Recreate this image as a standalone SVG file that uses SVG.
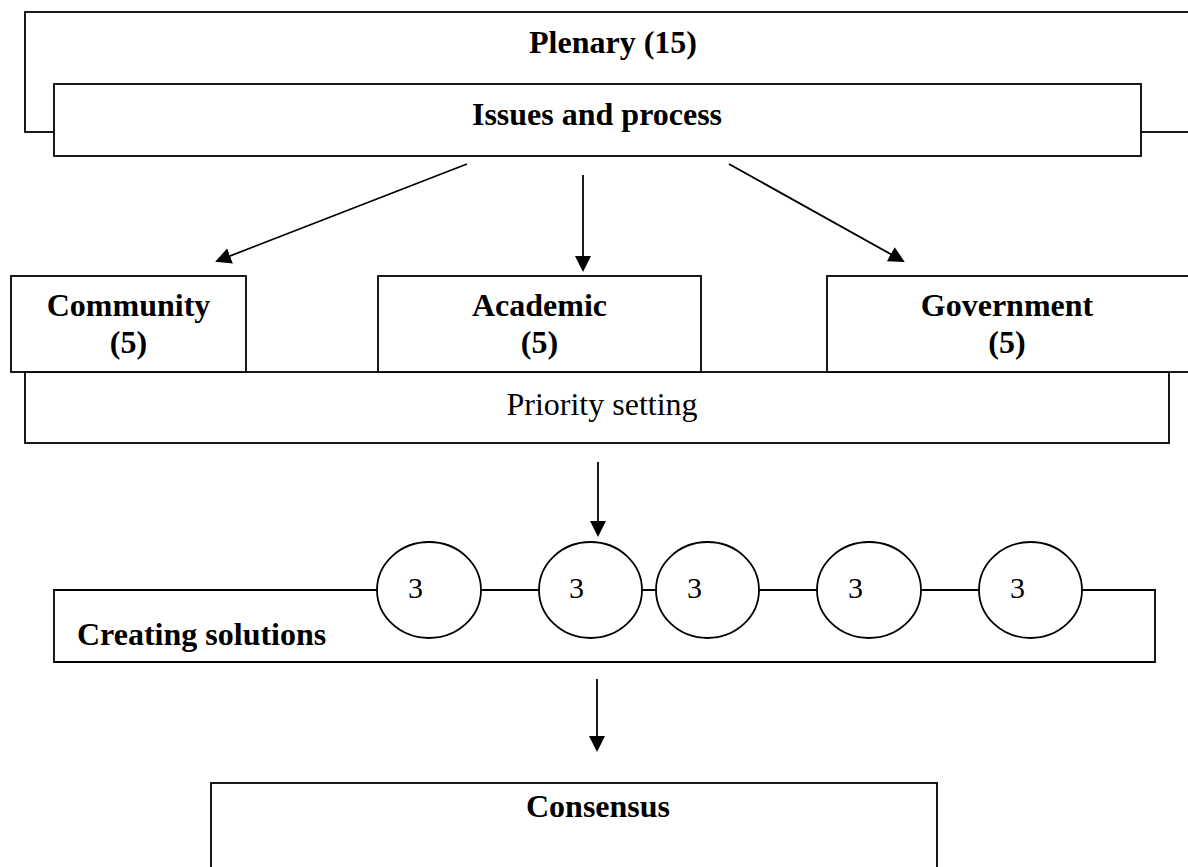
<svg xmlns="http://www.w3.org/2000/svg" width="1188" height="867" viewBox="0 0 1188 867">
<defs>
<style>
.box{fill:#fff;stroke:#000;stroke-width:1.8}
.ln{fill:none;stroke:#000;stroke-width:1.8}
.b{font-family:"Liberation Serif","Times New Roman",serif;font-weight:bold;font-size:32px;fill:#000}
.r{font-family:"Liberation Serif","Times New Roman",serif;font-size:32px;fill:#000}
.n{font-family:"Liberation Serif","Times New Roman",serif;font-size:30px;fill:#000}
</style>
<marker id="ah" markerWidth="16" markerHeight="16" refX="14" refY="8" orient="auto" markerUnits="userSpaceOnUse">
<path d="M0,0 L16,8 L0,16 Z" fill="#000"/>
</marker>
</defs>
<rect width="1188" height="867" fill="#fff"/>
<g id="plenary">
<rect class="box" x="25" y="12" width="1180" height="120"/>
<text class="b" x="529" y="53">Plenary (15)</text>
</g>
<g id="issues">
<rect class="box" x="54" y="84" width="1087" height="72"/>
<text class="b" x="597" y="125" text-anchor="middle">Issues and process</text>
</g>
<g id="priority">
<rect class="box" x="25" y="372" width="1144" height="71"/>
<text class="r" x="602" y="415" text-anchor="middle">Priority setting</text>
</g>
<g id="community">
<rect class="box" x="11" y="276" width="235" height="96"/>
<text class="b" x="128.5" y="316" text-anchor="middle">Community</text>
<text class="b" x="128.5" y="353" text-anchor="middle">(5)</text>
</g>
<g id="academic">
<rect class="box" x="378" y="276" width="323" height="96"/>
<text class="b" x="539.5" y="316" text-anchor="middle">Academic</text>
<text class="b" x="539.5" y="353" text-anchor="middle">(5)</text>
</g>
<g id="government">
<rect class="box" x="827" y="276" width="380" height="96"/>
<text class="b" x="1007" y="316" text-anchor="middle">Government</text>
<text class="b" x="1007" y="353" text-anchor="middle">(5)</text>
</g>
<g id="creating">
<path class="ln" d="M54,590 H1155 V662 H54 Z"/>
<text class="b" x="77" y="645">Creating solutions</text>
</g>
<g id="circles">
<ellipse class="box" cx="429" cy="590" rx="52" ry="48"/>
<text class="n" x="408" y="598">3</text>
<ellipse class="box" cx="590.5" cy="590" rx="51.5" ry="48"/>
<text class="n" x="569" y="598">3</text>
<ellipse class="box" cx="707.5" cy="590" rx="51.5" ry="48"/>
<text class="n" x="687" y="598">3</text>
<ellipse class="box" cx="869" cy="590" rx="52" ry="48"/>
<text class="n" x="848" y="598">3</text>
<ellipse class="box" cx="1030.5" cy="590" rx="51.5" ry="48"/>
<text class="n" x="1010" y="598">3</text>
</g>
<g id="consensus">
<rect class="box" x="211" y="783" width="726" height="100"/>
<text class="b" x="598" y="817" text-anchor="middle">Consensus</text>
</g>
<g id="connectors">
<line class="ln" x1="467" y1="164" x2="217" y2="261" marker-end="url(#ah)"/>
<line class="ln" x1="583" y1="175" x2="583" y2="270" marker-end="url(#ah)"/>
<line class="ln" x1="729" y1="164" x2="903" y2="261" marker-end="url(#ah)"/>
<line class="ln" x1="598" y1="462" x2="598" y2="535" marker-end="url(#ah)"/>
<line class="ln" x1="597" y1="679" x2="597" y2="750" marker-end="url(#ah)"/>
</g>
</svg>
